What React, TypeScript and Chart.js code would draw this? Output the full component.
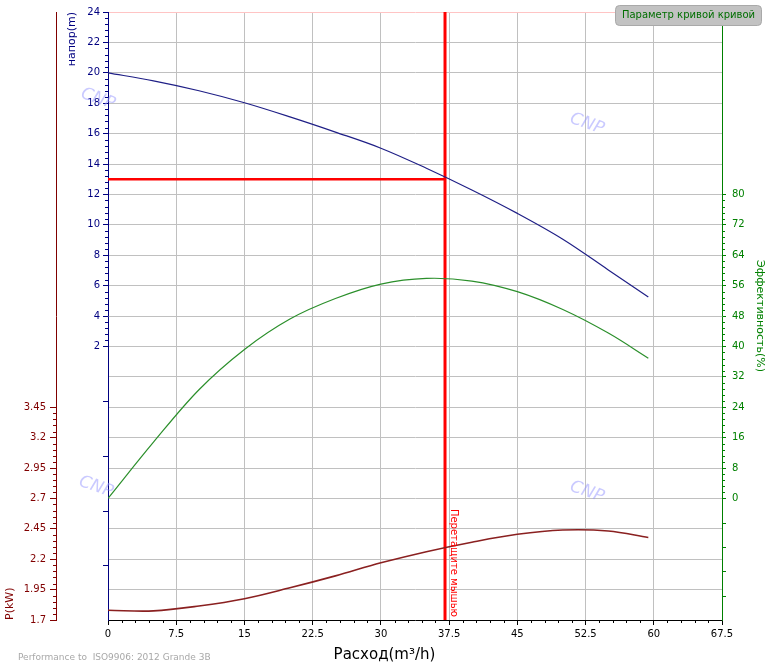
import React, { useEffect, useRef } from "react";
import { Chart, registerables } from "chart.js";

Chart.register(...registerables);

// pump curve readings (Q in m3/h)
const flow = [0, 5, 10, 15, 20, 25, 30, 35, 40, 45, 50, 55, 59.4];
const head = [20.0, 19.47, 18.82, 18.03, 17.1, 16.1, 15.04, 13.72, 12.29, 10.75, 9.05, 7.03, 5.25];
const efficiency = [0, 14.8, 28.6, 39.2, 47.2, 52.6, 56.4, 57.9, 57.2, 54.4, 49.7, 43.5, 36.9];
const power = [1.78, 1.775, 1.815, 1.875, 1.965, 2.063, 2.17, 2.262, 2.34, 2.405, 2.44, 2.432, 2.378];

// duty point
const dutyFlow = 37.05;
const dutyHead = 13;

// tick labels
const flowTicks = [0, 7.5, 15, 22.5, 30, 37.5, 45, 52.5, 60, 67.5];
const headTicks = [2, 4, 6, 8, 10, 12, 14, 16, 18, 20, 22, 24];
const powerTicks = [1.7, 1.95, 2.2, 2.45, 2.7, 2.95, 3.2, 3.45];
const effTicks = [0, 8, 16, 24, 32, 40, 48, 56, 64, 72, 80];
const headExtraTicks = [-1.6, -5.2, -8.8, -12.4];
const effExtraTicks = [-6.4, -12.8, -19.2, -25.6];

const HEAD_COLOR = "#000080";
const EFF_COLOR = "#008000";
const POWER_COLOR = "#800000";
const GRID = "#c0c0c0";
const FONT = "DejaVu Sans";

const has = (list: number[], v: number) => list.some((t) => Math.abs(t - v) < 1e-6);
const fmt = (v: number) => String(Math.round(v * 100) / 100);

const overlay = {
  id: "overlay",
  beforeDatasetsDraw(chart: any) {
    const { ctx } = chart;
    const marks = [
      [98, 99],
      [587, 124],
      [96, 487],
      [587, 492],
    ];
    ctx.save();
    ctx.font = `italic 17px "${FONT}"`;
    ctx.fillStyle = "rgba(150,150,255,0.5)";
    ctx.textAlign = "center";
    ctx.textBaseline = "middle";
    marks.forEach(([cx, cy]) => {
      ctx.save();
      ctx.translate(cx, cy);
      ctx.rotate((20 * Math.PI) / 180);
      ctx.fillText("CNP", 0, 0);
      ctx.restore();
    });
    ctx.restore();
  },
  afterDraw(chart: any) {
    const { ctx, chartArea } = chart;
    const { x, yH, yP, yE } = chart.scales;
    ctx.save();
    ctx.lineWidth = 1;

    const vTick = (px: number, y0: number, len: number, color: string) => {
      const p = Math.round(px) + 0.5;
      ctx.strokeStyle = color;
      ctx.beginPath();
      ctx.moveTo(p, y0);
      ctx.lineTo(p, y0 + len);
      ctx.stroke();
    };
    const hTick = (py: number, x0: number, len: number, color: string) => {
      const p = Math.round(py) + 0.5;
      ctx.strokeStyle = color;
      ctx.beginPath();
      ctx.moveTo(x0, p);
      ctx.lineTo(x0 + len, p);
      ctx.stroke();
    };

    // minor ticks
    for (let i = 1; i < 45; i++) {
      if (i % 5 === 0) continue;
      vTick(x.getPixelForValue(i * 1.5), chartArea.bottom, 3, "#000");
    }
    for (let i = 5; i < 60; i++) {
      if (i % 5 === 0) continue;
      hTick(yH.getPixelForValue(i * 0.4), chartArea.left, -3, HEAD_COLOR);
    }
    headExtraTicks.forEach((v) => hTick(yH.getPixelForValue(v), chartArea.left, -5, HEAD_COLOR));
    for (let i = 34; i < 69; i++) {
      if ((i - 34) % 5 === 0) continue;
      hTick(yP.getPixelForValue(i * 0.05), yP.right, -3, POWER_COLOR);
    }
    for (let i = 1; i < 50; i++) {
      if (i % 5 === 0) continue;
      hTick(yE.getPixelForValue(i * 1.6), chartArea.right, 3, EFF_COLOR);
    }
    effExtraTicks.forEach((v) => hTick(yE.getPixelForValue(v), chartArea.right, 4, EFF_COLOR));

    // x axis title, centred on the canvas
    ctx.fillStyle = "#000";
    ctx.font = `15px "${FONT}"`;
    ctx.textAlign = "center";
    ctx.textBaseline = "middle";
    ctx.fillText("Расход(m³/h)", chart.width / 2, 655);

    // footer
    ctx.fillStyle = "#a8a8a8";
    ctx.font = `9px "${FONT}"`;
    ctx.textAlign = "left";
    ctx.fillText("Performance to  ISO9906: 2012 Grande 3B", 18, 658);

    // drag hint beside the duty line
    const dx = x.getPixelForValue(dutyFlow);
    ctx.save();
    ctx.translate(dx + 6, chartArea.bottom - 3);
    ctx.rotate(Math.PI / 2);
    ctx.fillStyle = "#ff0000";
    ctx.font = `10px "${FONT}"`;
    ctx.textAlign = "right";
    ctx.textBaseline = "alphabetic";
    ctx.fillText("Перетащите мышью", 0, 0);
    ctx.restore();

    // legend box
    ctx.beginPath();
    ctx.roundRect(615.5, 5.5, 146, 20, 4);
    ctx.fillStyle = "#c2c2c2";
    ctx.fill();
    ctx.strokeStyle = "#a9a9a9";
    ctx.stroke();
    ctx.fillStyle = "#006e00";
    ctx.font = `10px "${FONT}"`;
    ctx.textAlign = "center";
    ctx.textBaseline = "middle";
    ctx.fillText("Параметр кривой кривой", 688.5, 15.5);

    ctx.restore();
  },
};

const curve = (values: number[]) => flow.map((q, i) => ({ x: q, y: values[i] }));

const App: React.FC = () => {
  const canvasRef = useRef<HTMLCanvasElement | null>(null);
  const chartRef = useRef<Chart | null>(null);

  useEffect(() => {
    if (chartRef.current) {
      chartRef.current.destroy();
    }
    if (!canvasRef.current) return;

    const font = { family: FONT, size: 10 };
    const titleFont = { family: FONT, size: 11 };

    chartRef.current = new Chart(canvasRef.current, {
      type: "scatter",
      data: {
        datasets: [
          {
            label: "напор",
            data: curve(head),
            yAxisID: "yH",
            showLine: true,
            borderColor: "#1f1f86",
            borderWidth: 1.2,
            pointRadius: 0,
            tension: 0.35,
          },
          {
            label: "Эффективность",
            data: curve(efficiency),
            yAxisID: "yE",
            showLine: true,
            borderColor: "#2b8f2b",
            borderWidth: 1.2,
            pointRadius: 0,
            tension: 0.35,
          },
          {
            label: "P",
            data: curve(power),
            yAxisID: "yP",
            showLine: true,
            borderColor: "#8a2020",
            borderWidth: 1.6,
            pointRadius: 0,
            tension: 0.35,
          },
          {
            label: "duty H",
            data: [
              { x: 0, y: dutyHead },
              { x: dutyFlow, y: dutyHead },
            ],
            yAxisID: "yH",
            showLine: true,
            borderColor: "#ff0000",
            borderWidth: 2.5,
            pointRadius: 0,
          },
          {
            label: "duty Q",
            data: [
              { x: dutyFlow, y: -16 },
              { x: dutyFlow, y: 24 },
            ],
            yAxisID: "yH",
            showLine: true,
            borderColor: "#ff0000",
            borderWidth: 3,
            pointRadius: 0,
          },
        ],
      },
      options: {
        animation: false,
        responsive: true,
        maintainAspectRatio: false,
        layout: { padding: { top: 10, left: 0, right: 0, bottom: 0 } },
        plugins: {
          legend: { display: false },
          tooltip: { enabled: false },
        },
        scales: {
          x: {
            type: "linear",
            position: "bottom",
            min: 0,
            max: 67.5,
            afterFit: (s: any) => {
              s.height = 46;
            },
            ticks: {
              stepSize: 7.5,
              autoSkip: false,
              maxRotation: 0,
              color: "#000",
              font,
              padding: 3,
              callback: (v: any) => (has(flowTicks, v) ? fmt(v) : ""),
            },
            grid: {
              color: (c: any) => (c.tick && (c.tick.value === 0 || c.tick.value === 67.5) ? "transparent" : GRID),
              tickColor: "#000",
              tickLength: 5,
            },
            border: { color: "#000" },
          },
          yH: {
            type: "linear",
            position: "left",
            weight: 0,
            min: -16,
            max: 24,
            afterFit: (s: any) => {
              s.width = 52;
            },
            ticks: {
              stepSize: 2,
              autoSkip: false,
              color: HEAD_COLOR,
              font,
              padding: 3,
              callback: (v: any) => (has(headTicks, v) ? fmt(v) : ""),
            },
            grid: {
              color: (c: any) => {
                const v = c.tick ? c.tick.value : 0;
                if (v === 24) return "#ffc4c4";
                if (v === -16) return "transparent";
                return GRID;
              },
              tickColor: (c: any) => (c.tick && c.tick.value >= 2 ? HEAD_COLOR : "transparent"),
              tickLength: 5,
            },
            border: { color: HEAD_COLOR },
            title: {
              display: true,
              text: "напор(m)",
              align: "end",
              color: HEAD_COLOR,
              font: titleFont,
              padding: { top: 10, bottom: 0 },
            },
          },
          yP: {
            type: "linear",
            position: "left",
            weight: 1,
            min: 1.7,
            max: 6.7,
            afterFit: (s: any) => {
              s.width = 56;
            },
            ticks: {
              stepSize: 0.25,
              autoSkip: false,
              color: POWER_COLOR,
              font,
              padding: 4,
              callback: (v: any) => (has(powerTicks, v) ? fmt(v) : ""),
            },
            grid: {
              drawOnChartArea: false,
              tickColor: (c: any) => (c.tick && c.tick.value <= 3.4501 ? POWER_COLOR : "transparent"),
              tickLength: 6,
            },
            border: { color: POWER_COLOR },
            title: {
              display: true,
              text: "P(kW)",
              align: "start",
              color: POWER_COLOR,
              font: titleFont,
              padding: { top: 4, bottom: 0 },
            },
          },
          yE: {
            type: "linear",
            position: "right",
            min: -32,
            max: 128,
            afterFit: (s: any) => {
              s.width = 47;
            },
            ticks: {
              stepSize: 8,
              autoSkip: false,
              color: EFF_COLOR,
              font,
              padding: 6,
              callback: (v: any) => (has(effTicks, v) ? fmt(v) : ""),
            },
            grid: {
              drawOnChartArea: false,
              tickColor: (c: any) => (c.tick && c.tick.value >= 0 && c.tick.value <= 80 ? EFF_COLOR : "transparent"),
              tickLength: 4,
            },
            border: { color: EFF_COLOR },
            title: {
              display: true,
              text: "Эффективность(%)",
              align: "center",
              color: EFF_COLOR,
              font: titleFont,
              padding: { top: 3, bottom: 0 },
            },
          },
        },
      } as any,
      plugins: [overlay],
    });

    return () => {
      if (chartRef.current) {
        chartRef.current.destroy();
        chartRef.current = null;
      }
    };
  }, []);

  return (
    <div style={{ position: "fixed", left: 0, top: 0, width: 769, height: 666, background: "#fff" }}>
      <canvas ref={canvasRef}></canvas>
    </div>
  );
};

export default App;
